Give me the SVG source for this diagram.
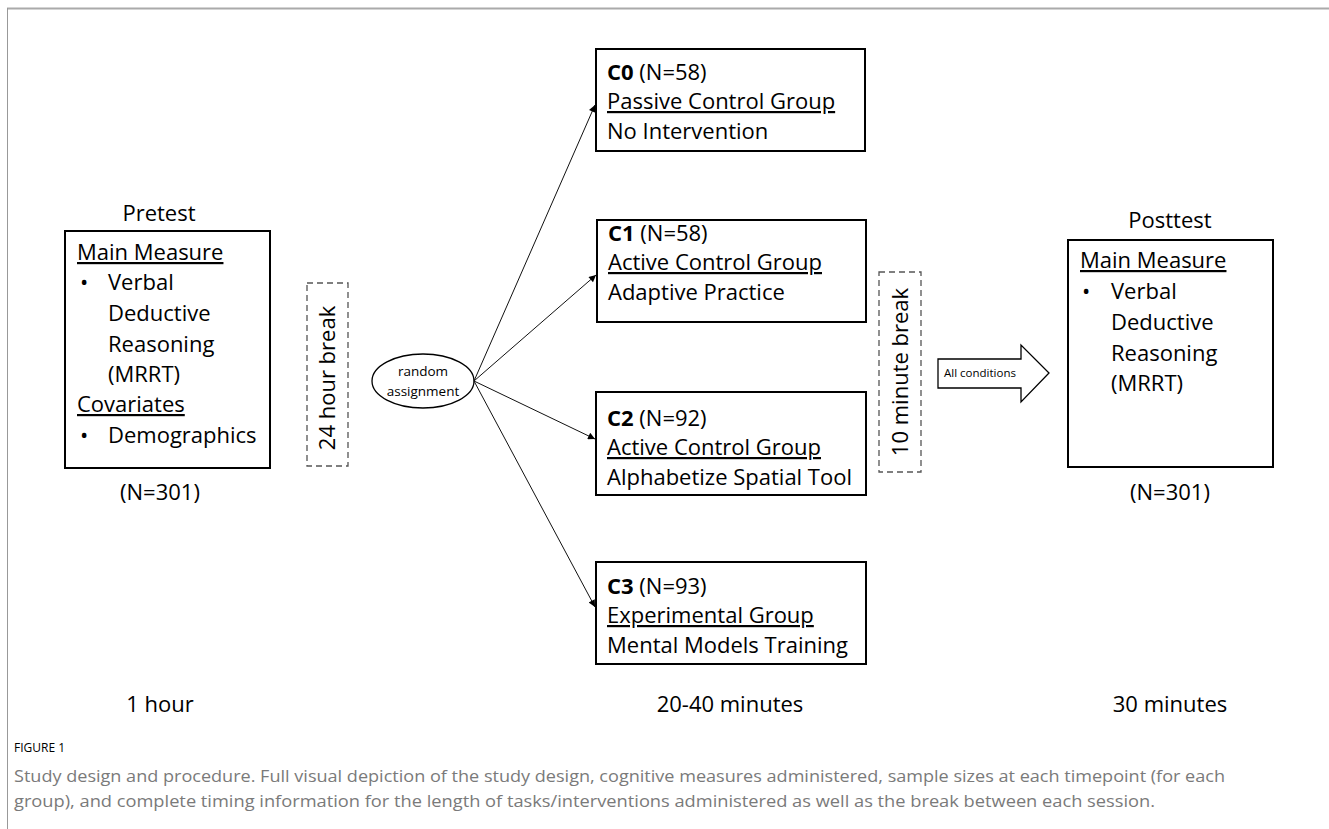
<svg xmlns="http://www.w3.org/2000/svg" width="1329" height="829" viewBox="0 0 1329 829">
<style>
text{font-family:"Open Sans","Liberation Sans",sans-serif;fill:#000}
.t{font-size:22px}
.u{text-decoration:underline}
.box{fill:#fff;stroke:#000;stroke-width:2}
.dash{fill:#fff;stroke:#555;stroke-width:1.3;stroke-dasharray:6 4}
.conn{stroke:#111;stroke-width:1;fill:none}
.cap{font-size:16px;fill:#7a7a7a}
</style>
<defs>
<marker id="ah" viewBox="0 0 10 10" refX="10" refY="5" markerWidth="9" markerHeight="7" markerUnits="userSpaceOnUse" orient="auto">
<path d="M0,0 L10,5 L0,10 z" fill="#000"/>
</marker>
</defs>
<rect width="1329" height="829" fill="#fff"/>
<line x1="7" y1="8.5" x2="1329" y2="8.5" stroke="#aaa" stroke-width="2"/>
<line x1="7.5" y1="8" x2="7.5" y2="829" stroke="#999" stroke-width="1"/>

<g id="pretest">
<text class="t" x="159" y="221" text-anchor="middle">Pretest</text>
<rect class="box" x="65" y="231" width="205" height="237"/>
<text class="t" x="77" y="260"><tspan class="u">Main Measure</tspan></text>
<text class="t" x="80" y="290">•</text>
<text class="t" x="108" y="290">Verbal</text>
<text class="t" x="108" y="321">Deductive</text>
<text class="t" x="108" y="352">Reasoning</text>
<text class="t" x="108" y="382">(MRRT)</text>
<text class="t" x="77" y="412"><tspan class="u">Covariates</tspan></text>
<text class="t" x="80" y="443">•</text>
<text class="t" x="108" y="443">Demographics</text>
<text class="t" x="160" y="500" text-anchor="middle">(N=301)</text>
</g>

<g id="break24">
<rect class="dash" x="307" y="283" width="41" height="183"/>
<text class="t" transform="translate(335,378) rotate(-90)" text-anchor="middle">24 hour break</text>
</g>

<g id="random">
<ellipse cx="423" cy="381" rx="51" ry="27" fill="#fff" stroke="#000" stroke-width="1.3"/>
<text x="423" y="376" font-size="13.5" text-anchor="middle">random</text>
<text x="423" y="396" font-size="13.5" text-anchor="middle">assignment</text>
</g>

<g id="connectors">
<line class="conn" x1="474" y1="381" x2="595" y2="105" marker-end="url(#ah)"/>
<line class="conn" x1="474" y1="381" x2="596" y2="275" marker-end="url(#ah)"/>
<line class="conn" x1="474" y1="381" x2="595" y2="439" marker-end="url(#ah)"/>
<line class="conn" x1="474" y1="381" x2="595" y2="607" marker-end="url(#ah)"/>
</g>

<g id="c0">
<rect class="box" x="596" y="49" width="269" height="102"/>
<text class="t" x="607" y="80"><tspan font-weight="bold">C0</tspan> (N=58)</text>
<text class="t" x="607" y="109"><tspan class="u">Passive Control Group</tspan></text>
<text class="t" x="607" y="139">No Intervention</text>
</g>

<g id="c1">
<rect class="box" x="597" y="220" width="269" height="102"/>
<text class="t" x="608" y="241"><tspan font-weight="bold">C1</tspan> (N=58)</text>
<text class="t" x="608" y="270"><tspan class="u">Active Control Group</tspan></text>
<text class="t" x="608" y="300">Adaptive Practice</text>
</g>

<g id="c2">
<rect class="box" x="596" y="392" width="270" height="103"/>
<text class="t" x="607" y="426"><tspan font-weight="bold">C2</tspan> (N=92)</text>
<text class="t" x="607" y="455"><tspan class="u">Active Control Group</tspan></text>
<text class="t" x="607" y="485">Alphabetize Spatial Tool</text>
</g>

<g id="c3">
<rect class="box" x="596" y="562" width="270" height="102"/>
<text class="t" x="607" y="594"><tspan font-weight="bold">C3</tspan> (N=93)</text>
<text class="t" x="607" y="623"><tspan class="u">Experimental Group</tspan></text>
<text class="t" x="607" y="653">Mental Models Training</text>
</g>

<g id="break10">
<rect class="dash" x="879" y="272" width="42" height="200"/>
<text class="t" transform="translate(908,372) rotate(-90)" text-anchor="middle">10 minute break</text>
</g>

<g id="allcond">
<path d="M938,359 L1021,359 L1021,345 L1049,373 L1021,402 L1021,388 L938,388 Z" fill="#fff" stroke="#000" stroke-width="1.3"/>
<text x="980" y="377" font-size="11.5" text-anchor="middle">All conditions</text>
</g>

<g id="posttest">
<text class="t" x="1170" y="228" text-anchor="middle">Posttest</text>
<rect class="box" x="1068" y="240" width="205" height="227"/>
<text class="t" x="1080" y="268"><tspan class="u">Main Measure</tspan></text>
<text class="t" x="1082" y="299">•</text>
<text class="t" x="1111" y="299">Verbal</text>
<text class="t" x="1111" y="330">Deductive</text>
<text class="t" x="1111" y="361">Reasoning</text>
<text class="t" x="1111" y="391">(MRRT)</text>
<text class="t" x="1170" y="500" text-anchor="middle">(N=301)</text>
</g>

<g id="timing">
<text class="t" x="160" y="712" text-anchor="middle">1 hour</text>
<text class="t" x="730" y="712" text-anchor="middle">20-40 minutes</text>
<text class="t" x="1170" y="712" text-anchor="middle">30 minutes</text>
</g>

<g id="caption">
<text x="14" y="752" font-size="12" fill="#666">FIGURE 1</text>
<text class="cap" x="14" y="782" textLength="1211" lengthAdjust="spacingAndGlyphs">Study design and procedure. Full visual depiction of the study design, cognitive measures administered, sample sizes at each timepoint (for each</text>
<text class="cap" x="14" y="807" textLength="1141" lengthAdjust="spacingAndGlyphs">group), and complete timing information for the length of tasks/interventions administered as well as the break between each session.</text>
</g>
</svg>
